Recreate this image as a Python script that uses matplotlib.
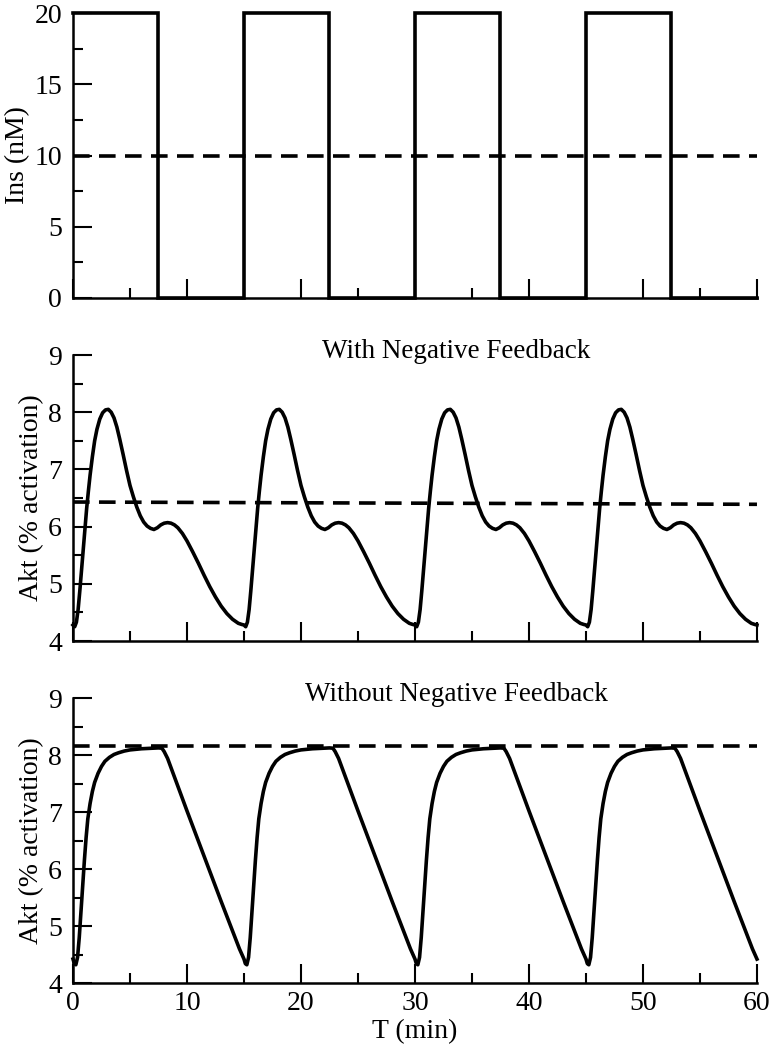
import numpy as np
import matplotlib
matplotlib.use("Agg")
import matplotlib.pyplot as plt
from matplotlib.ticker import MultipleLocator

plt.rcParams['font.family'] = ['Liberation Serif', 'DejaVu Serif']

# insulin pulses: 20 nM for 7.5 min, then 0 for 7.5 min
ins_t = [0, 7.5, 7.5, 15, 15, 22.5, 22.5, 30, 30, 37.5, 37.5, 45, 45, 52.5, 52.5, 60]
ins_v = [20, 20, 0, 0, 20, 20, 0, 0, 20, 20, 0, 0, 20, 20, 0, 0]
ins_mean_t = [0, 60]
ins_mean_v = [10, 10]

# one 15 min cycle of Akt (the four cycles are identical)
fb_cycle_t = [0.0, 0.15, 0.3, 0.45, 0.6, 0.75, 0.9, 1.05, 1.2, 1.35, 1.5, 1.7, 1.9, 2.1,
              2.35, 2.6, 2.85, 3.1, 3.35, 3.6, 3.85, 4.1, 4.4, 4.7, 5.0, 5.3, 5.6, 5.9,
              6.2, 6.5, 6.8, 7.1, 7.4, 7.7, 8.0, 8.3, 8.6, 8.9, 9.2, 9.6, 10.0, 10.5,
              11.0, 11.5, 12.0, 12.5, 13.0, 13.5, 14.0, 14.5, 14.8]
fb_cycle_v = [4.28, 4.25, 4.33, 4.55, 4.88, 5.24, 5.62, 5.98, 6.32, 6.62, 6.90, 7.22, 7.50, 7.70,
              7.88, 7.99, 8.04, 8.05, 8.00, 7.90, 7.74, 7.53, 7.26, 6.98, 6.72, 6.52, 6.34, 6.19,
              6.08, 6.01, 5.97, 5.95, 5.98, 6.03, 6.06, 6.07, 6.06, 6.03, 5.98, 5.88, 5.75, 5.56,
              5.36, 5.15, 4.95, 4.77, 4.61, 4.48, 4.38, 4.31, 4.29]
fb_mean_t = [0, 60]
fb_mean_v = [6.43, 6.39]

nofb_cycle_t = [0.0, 0.12, 0.25, 0.4, 0.55, 0.7, 0.85, 1.0, 1.15, 1.3, 1.5, 1.7, 1.9, 2.2,
                2.5, 2.8, 3.2, 3.6, 4.0, 4.5, 5.0, 5.5, 6.0, 6.5, 7.0, 7.5, 7.8, 8.0, 8.3,
                9.0, 10.0, 11.0, 12.0, 13.0, 14.0, 14.6]
nofb_cycle_v = [4.42, 4.34, 4.32, 4.45, 4.80, 5.25, 5.72, 6.15, 6.55, 6.88, 7.15, 7.36, 7.52, 7.68,
                7.80, 7.89, 7.96, 8.01, 8.04, 8.07, 8.09, 8.10, 8.11, 8.115, 8.12, 8.125, 8.12, 8.06, 7.94,
                7.56, 7.02, 6.49, 5.96, 5.43, 4.91, 4.60]
nofb_mean_t = [0, 60]
nofb_mean_v = [8.16, 8.16]

PERIOD = 15
N_PULSES = 4


def repeat_cycle(cycle_t, cycle_v):
    t = np.concatenate([np.array(cycle_t) + PERIOD * k for k in range(N_PULSES)] + [[PERIOD * N_PULSES]])
    v = np.concatenate([np.array(cycle_v)] * N_PULSES + [[cycle_v[0]]])
    return t, v


LW = 2.6
DASH = (0, (4.6, 2.6))


def style_axes(ax, xlabels=False):
    for side in ('top', 'right'):
        ax.spines[side].set_visible(False)
    for side in ('left', 'bottom'):
        ax.spines[side].set_linewidth(1.8)
    ax.set_xlim(0, 60)
    ax.xaxis.set_major_locator(MultipleLocator(10))
    ax.xaxis.set_minor_locator(MultipleLocator(5))
    ax.tick_params(which='both', direction='in', width=1.5, labelsize=20, top=False, right=False)
    ax.tick_params(which='major', length=14)
    ax.tick_params(which='minor', length=7)
    ax.tick_params(axis='y', which='both', pad=8)
    ax.tick_params(axis='x', which='both', pad=6)
    if not xlabels:
        ax.tick_params(axis='x', labelbottom=False)


fig = plt.figure(figsize=(7.74, 10.5), dpi=100)
left, width = 0.0943, 0.8837
ax1 = fig.add_axes([left, 0.7162, width, 0.2714])
ax2 = fig.add_axes([left, 0.3895, width, 0.2724])
ax3 = fig.add_axes([left, 0.0638, width, 0.2714])

# insulin
ax1.plot(ins_t, ins_v, color='black', lw=LW, clip_on=False, solid_joinstyle='miter')
ax1.plot(ins_mean_t, ins_mean_v, color='black', lw=LW, linestyle=DASH)
ax1.set_ylim(0, 20)
ax1.yaxis.set_major_locator(MultipleLocator(5))
ax1.yaxis.set_minor_locator(MultipleLocator(2.5))
ax1.set_ylabel("Ins (nM)", fontsize=20, labelpad=3)
style_axes(ax1)

# with feedback
t, v = repeat_cycle(fb_cycle_t, fb_cycle_v)
ax2.plot(t, v, color='black', lw=LW, clip_on=False)
ax2.plot(fb_mean_t, fb_mean_v, color='black', lw=LW, linestyle=DASH)
ax2.set_ylim(4, 9)
ax2.yaxis.set_major_locator(MultipleLocator(1))
ax2.yaxis.set_minor_locator(MultipleLocator(0.5))
ax2.set_ylabel("Akt (% activation)", fontsize=20, labelpad=3)
ax2.text(0.56, 1.014, "With Negative Feedback", transform=ax2.transAxes,
         ha='center', va='center', fontsize=19.5)
style_axes(ax2)

# without feedback
t, v = repeat_cycle(nofb_cycle_t, nofb_cycle_v)
ax3.plot(t, v, color='black', lw=LW, clip_on=False)
ax3.plot(nofb_mean_t, nofb_mean_v, color='black', lw=LW, linestyle=DASH)
ax3.set_ylim(4, 9)
ax3.yaxis.set_major_locator(MultipleLocator(1))
ax3.yaxis.set_minor_locator(MultipleLocator(0.5))
ax3.set_ylabel("Akt (% activation)", fontsize=20, labelpad=3)
ax3.set_xlabel("T (min)", fontsize=20, labelpad=2)
ax3.text(0.56, 1.014, "Without Negative Feedback", transform=ax3.transAxes,
         ha='center', va='center', fontsize=19.5)
style_axes(ax3, xlabels=True)

fig.savefig("out.png", dpi=100)
